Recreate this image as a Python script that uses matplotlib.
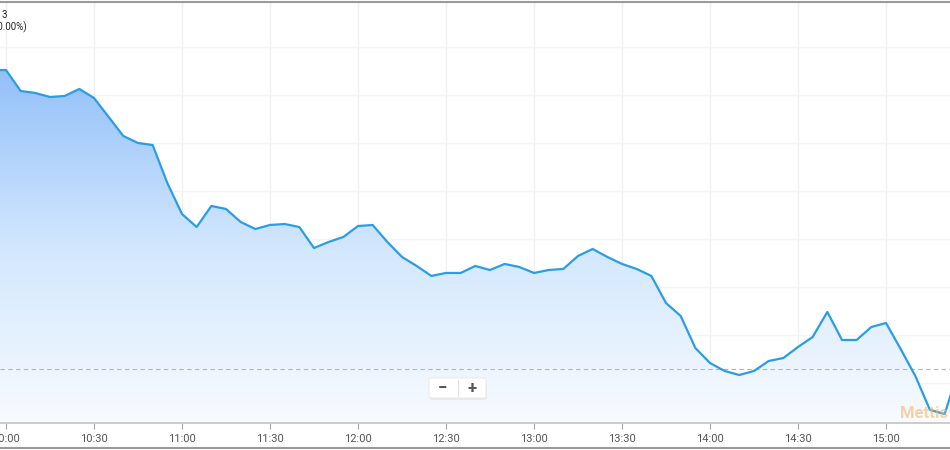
"""
Intraday index line chart with gradient area fill.
"""

import matplotlib
matplotlib.use("Agg")
import matplotlib.pyplot as plt
from matplotlib.colors import LinearSegmentedColormap
from matplotlib.patches import FancyBboxPatch
from matplotlib.lines import Line2D
import numpy as np

# 5-minute samples
TIMES = [
    "09:55", "10:00", "10:05", "10:10", "10:15", "10:20", "10:25", "10:30",
    "10:35", "10:40", "10:45", "10:50", "10:55", "11:00", "11:05", "11:10",
    "11:15", "11:20", "11:25", "11:30", "11:35", "11:40", "11:45", "11:50",
    "11:55", "12:00", "12:05", "12:10", "12:15", "12:20", "12:25", "12:30",
    "12:35", "12:40", "12:45", "12:50", "12:55", "13:00", "13:05", "13:10",
    "13:15", "13:20", "13:25", "13:30", "13:35", "13:40", "13:45", "13:50",
    "13:55", "14:00", "14:05", "14:10", "14:15", "14:20", "14:25", "14:30",
    "14:35", "14:40", "14:45", "14:50", "14:55", "15:00", "15:05", "15:10",
    "15:15", "15:20", "15:25",
]
VALUES = [
    45326.0, 45326.0, 45304.2, 45302.1, 45297.9, 45299.0, 45306.3, 45296.9,
    45277.1, 45257.3, 45250.0, 45247.9, 45208.3, 45176.0, 45162.5, 45184.4,
    45181.3, 45167.7, 45160.4, 45164.6, 45165.6, 45162.5, 45140.6, 45146.9,
    45152.1, 45163.5, 45164.6, 45146.9, 45131.3, 45121.9, 45111.5, 45114.6,
    45114.6, 45121.9, 45117.7, 45124.0, 45120.8, 45114.6, 45117.7, 45118.8,
    45132.3, 45139.6, 45131.3, 45124.0, 45118.8, 45111.5, 45083.3, 45069.8,
    45036.5, 45020.8, 45012.5, 45008.3, 45012.5, 45022.9, 45026.0, 45037.5,
    45047.9, 45074.0, 45044.8, 45044.8, 45058.3, 45062.5, 45035.4, 45007.3,
    44971.9, 44967.7, 45015.6,
]
PREV_CLOSE = 45014.6
TICK_LABELS = ["10:00", "10:30", "11:00", "11:30", "12:00", "12:30",
               "13:00", "13:30", "14:00", "14:30", "15:00"]
Y_GRID = [45000, 45050, 45100, 45150, 45200, 45250, 45300, 45350]

LINE_COLOR = "#2a9de6"


def to_minutes(t):
    h, m = t.split(":")
    return (int(h) - 10) * 60 + int(m)


x = np.array([to_minutes(t) for t in TIMES], dtype=float)
y = np.array(VALUES)
tick_pos = [to_minutes(t) for t in TICK_LABELS]

plt.rcParams["font.family"] = ["Roboto", "DejaVu Sans"]

fig = plt.figure(figsize=(9.5, 4.5), dpi=100)
ax = fig.add_axes([0, 27 / 450, 1, 421 / 450])

xmin, xmax = -6 / 2.9333, 944 / 2.9333
ymin, ymax = 44958.3, 45396.9
ax.set_xlim(xmin, xmax)
ax.set_ylim(ymin, ymax)

# grid (very faint)
for v in Y_GRID:
    ax.axhline(v, color="#f4f4f4", lw=1, zorder=0)
for p in tick_pos:
    ax.axvline(p, color="#f1f1f1", lw=1, zorder=0)

# gradient area fill
cmap = LinearSegmentedColormap.from_list("fill", ["#f8fbff", "#d2e7fd", "#93c0fa"])
grad = np.linspace(0, 1, 256).reshape(-1, 1)
img = ax.imshow(grad, cmap=cmap, aspect="auto", origin="lower",
                extent=[xmin, xmax, ymin, y.max()], zorder=1)
poly = ax.fill_between(x, y, ymin, color="none", lw=0)
img.set_clip_path(poly.get_paths()[0], transform=ax.transData)

ax.plot(x, y, color=LINE_COLOR, lw=1.6, zorder=3, solid_joinstyle="round")
ax.axhline(PREV_CLOSE, color="#b5b5b5", lw=0.8, ls=(0, (4, 3)), zorder=2)

# axes styling
for s in ["top", "left", "right"]:
    ax.spines[s].set_visible(False)
ax.spines["bottom"].set_color("#c4c4c4")
ax.spines["bottom"].set_linewidth(1.2)
ax.set_yticks([])
ax.set_xticks(tick_pos)
ax.set_xticklabels(TICK_LABELS, fontsize=8, color="#555555")
ax.tick_params(axis="x", length=4, color="#aaaaaa", pad=4)

# header text (cut off at the left edge)
fig.text(7 / 950, 1 - 15 / 450, "3", fontsize=7, color="#222222",
         ha="right", va="center")
fig.text(27 / 950, 1 - 27 / 450, "(0.00%)", fontsize=7, color="#222222",
         ha="right", va="center")

# zoom control
shadow = FancyBboxPatch((430 / 950, 50 / 450), 57 / 950, 20 / 450,
                        boxstyle="round,pad=0,rounding_size=0.004",
                        transform=fig.transFigure, facecolor="#000000",
                        alpha=0.06, lw=0, zorder=4)
box = FancyBboxPatch((429 / 950, 52 / 450), 57 / 950, 20 / 450,
                     boxstyle="round,pad=0,rounding_size=0.004",
                     transform=fig.transFigure, facecolor="white",
                     edgecolor="#ececec", lw=0.8, zorder=5)
fig.patches.extend([shadow, box])
fig.add_artist(Line2D([458 / 950, 458 / 950], [54 / 450, 70 / 450],
                      transform=fig.transFigure, color="#e3e3e3", lw=0.8,
                      zorder=6))
fig.text(442 / 950, 62 / 450, "\u2212", fontsize=12, fontweight="bold",
         color="#555555", ha="center", va="center", zorder=7)
fig.text(472 / 950, 62 / 450, "+", fontsize=12, fontweight="bold",
         color="#555555", ha="center", va="center", zorder=7)

# watermark
fig.text(900 / 950, 36 / 450, "Mettis", fontsize=12, fontweight="bold",
         color="#f3b86e", alpha=0.6, ha="left", va="center")

# outer frame lines
fig.add_artist(Line2D([0, 1], [1 - 1.5 / 450, 1 - 1.5 / 450],
                      transform=fig.transFigure, color="#9a9a9a", lw=1.5))
fig.add_artist(Line2D([0, 1], [2.5 / 450, 2.5 / 450],
                      transform=fig.transFigure, color="#9a9a9a", lw=1.5))

fig.savefig("out.png", dpi=100)
plt.close(fig)
